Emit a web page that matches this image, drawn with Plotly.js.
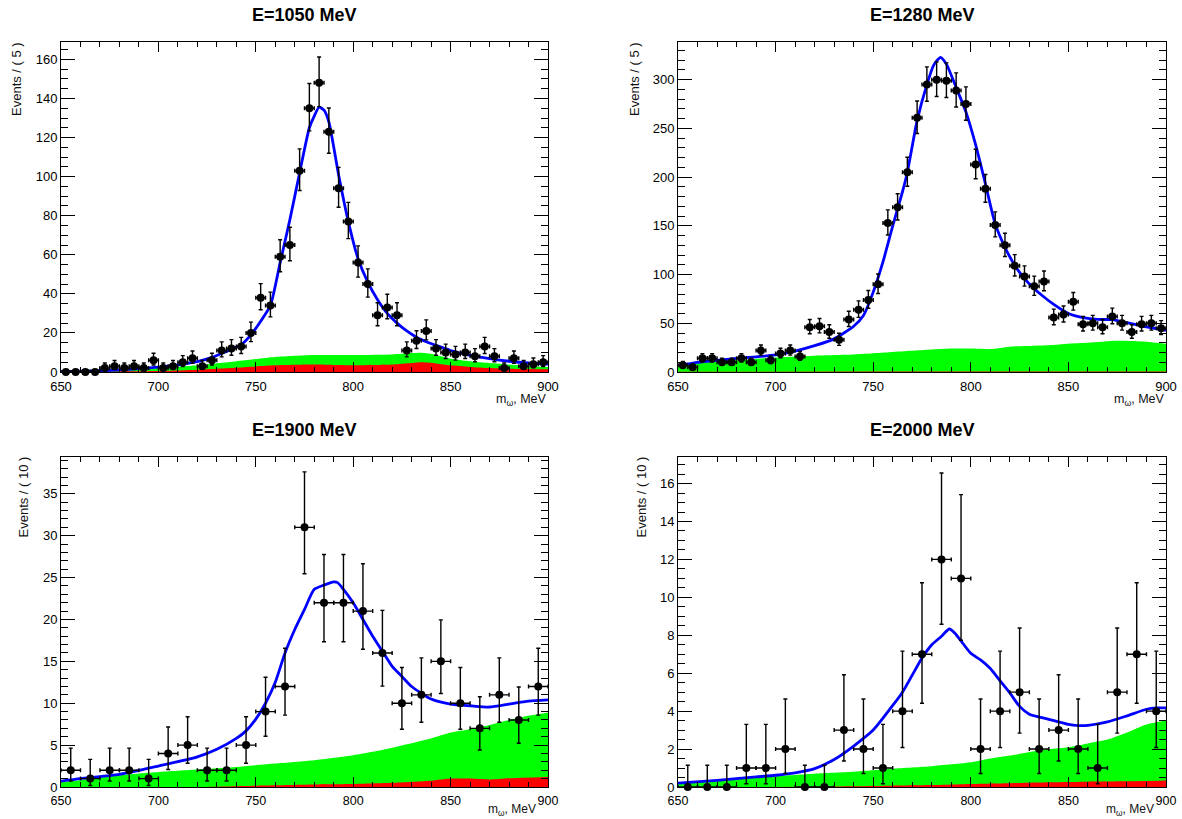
<!DOCTYPE html>
<html>
<head>
<meta charset="utf-8">
<script src="https://cdn.plot.ly/plotly-3.0.1.min.js"></script>
<style>html,body{margin:0;padding:0;background:#fff;}#chart{width:1182px;height:819px;}</style>
</head>
<body>
<div id="chart"></div>
<script>
// ---------- data ----------
const titles = ["E=1050 MeV", "E=1280 MeV", "E=1900 MeV", "E=2000 MeV"];
const yTitles = ["Events / ( 5 )", "Events / ( 5 )", "Events / ( 10 )", "Events / ( 10 )"];
const xTitle = "m<sub>ω</sub>, MeV";

// bin centres
const bins5 = [652.5,657.5,662.5,667.5,672.5,677.5,682.5,687.5,692.5,697.5,
               702.5,707.5,712.5,717.5,722.5,727.5,732.5,737.5,742.5,747.5,
               752.5,757.5,762.5,767.5,772.5,777.5,782.5,787.5,792.5,797.5,
               802.5,807.5,812.5,817.5,822.5,827.5,832.5,837.5,842.5,847.5,
               852.5,857.5,862.5,867.5,872.5,877.5,882.5,887.5,892.5,897.5];
const bins10 = [655,665,675,685,695,705,715,725,735,745,755,765,775,785,795,
                805,815,825,835,845,855,865,875,885,895];

// event counts
const counts1050 = [0,0,0,0,2,3,2,3,2,6,2,3,5,7,3,6,11,12,13,20,38,34,59,65,103,
                    135,148,123,94,77,56,45,29,33,29,11,16,21,12,10,9,10,8,13,8,2,7,3,4,5];
const counts1280 = [7,5,14,14,10,10,14,10,22,12,19,22,16,46,47,41,33,54,64,74,90,153,169,205,261,
                    295,300,299,289,275,213,188,151,130,109,98,88,93,56,59,72,49,50,46,57,50,41,49,50,45];
const counts1900 = [2,1,2,2,1,4,5,2,2,5,9,12,31,22,22,21,16,10,11,15,10,7,11,8,12];
const counts2000 = [0,0,0,1,1,2,0,0,3,2,1,4,7,12,11,2,4,5,2,3,2,1,5,7,4];

// total fit (blue)
const fitX1050 = [650,660,670,680,690,700,710,720,727.5,732.5,737.5,742.5,747.5,752.5,757.5,762.5,767.5,772.5,777.5,780,782.5,785,787.5,792.5,797.5,802.5,807.5,812.5,817.5,822.5,827.5,832.5,837.5,842.5,850,860,870,880,890,900];
const fitY1050 = [0.2,0.4,0.7,1.1,1.7,2.5,3.7,5.3,7.5,9.5,11.5,14,19,26,34,56,78,102,125,131,135.5,134,128,101,77,58,46,37,30,25,21,17.8,15.5,13.6,11,8.5,6.8,5.5,4.6,4];
const fitX1280 = [650,655,660,670,680,690,700,710,720,730,740,745,750,755,760,765,767.5,772.5,777.5,781,784.5,787.5,792.5,797.5,802.5,807.5,812.5,817.5,822.5,827.5,832.5,837.5,842.5,850,857.5,865,872.5,880,890,900];
const fitY1280 = [6.8,8.2,9.8,12,14,15.5,17.5,21.5,27,34,47,58,82,113,150,185,205,258,295,315,323,316,292,267,233,193,152,128,109.5,95.8,85.5,77,69.4,60,55.8,54,53.7,50.6,46.2,42.8];
const fitX1900 = [650,660,680,700,720,730,740,745,750,755,760,765,770,775,780,785,790,792,795,800,805,810,815,820,825,830,840,850,860,870,880,890,900];
const fitY1900 = [0.7,1.0,1.5,2.5,3.6,4.5,5.8,6.7,8.1,10,12.5,16,18.8,21.2,23.6,24.1,24.5,24.4,23.6,22,20,18,16.2,14.4,13.2,12,10.5,9.9,9.7,9.55,9.9,10.25,10.4];
const fitX2000 = [650,670,690,700,710,720,730,740,750,760,765,770,775,780,785,789,792,795,800,805,810,815,820,825,830,840,850,855,860,870,880,890,895,900];
const fitY2000 = [0.2,0.35,0.53,0.62,0.75,0.97,1.45,2.16,3.0,4.3,5.0,5.9,6.8,7.5,7.95,8.33,8.1,7.7,7.05,6.7,6.25,5.6,4.96,4.25,3.84,3.57,3.3,3.24,3.25,3.43,3.75,4.1,4.17,4.17];

// background components (green = total background, red = second component)
const grnX1050 = [650,660,680,700,720,740,760,780,800,820,830,835,840,845,850,860,870,880,890,900];
const grnY1050 = [0.8,1.0,1.5,2.0,3.4,5.5,7.7,8.7,8.7,9.0,9.7,9.9,9.3,8.0,6.8,5.5,4.6,3.8,3.1,2.6];
const redX1050 = grnX1050;
const redY1050 = [0,0.1,0.3,0.5,1.2,2.2,3.4,3.8,3.4,3.8,4.6,5.0,4.7,4.0,3.4,2.6,2.0,1.7,1.5,1.4];
const grnX1280 = [650,660,680,700,720,740,760,780,790,800,810,820,840,850,860,875,890,900];
const grnY1280 = [6.5,9,12,15,16.8,18,20.5,23,24,24,23.5,26,27.5,29,30,32,31,29];
const redX1280 = [650,750,800,900];
const redY1280 = [0.2,0.4,0.5,0.6];
const grnX1900 = [650,660,680,700,720,740,760,780,800,810,820,840,850,860,870,880,890,900];
const grnY1900 = [0.6,0.8,1.4,1.8,2.1,2.4,2.8,3.2,3.8,4.2,4.7,5.8,6.5,6.9,7.4,8,8.5,8.9];
const redX1900 = [650,720,740,760,780,800,820,840,850,860,870,880,900];
const redY1900 = [0,0,0.1,0.2,0.3,0.35,0.5,0.75,1.0,1.0,0.9,1.05,1.2];
const grnX2000 = [650,660,680,700,720,740,760,780,800,810,820,840,850,860,870,880,885,890,900];
const grnY2000 = [0.25,0.3,0.42,0.57,0.7,0.8,0.97,1.1,1.3,1.5,1.66,2.0,2.1,2.3,2.5,2.87,3.1,3.3,3.5];
const redX2000 = [650,720,740,760,780,800,820,840,860,880,900];
const redY2000 = [0,0.01,0.04,0.07,0.1,0.16,0.2,0.25,0.28,0.3,0.34];

// ---------- Poisson 68.27% intervals (how the error bars are defined) ----------
const ALPHA = 0.158655;
function poisCdf(n, mu) {
  let term = Math.exp(-mu), sum = term;
  for (let k = 1; k <= n; k++) { term *= mu / k; sum += term; }
  return sum;
}
function bisect(f, a, b) {
  for (let i = 0; i < 80; i++) { const m = 0.5 * (a + b); if (f(m) > 0) a = m; else b = m; }
  return 0.5 * (a + b);
}
function poisInterval(n) {
  if (n === 0) return [0, -Math.log(1 - 0.6827)];
  const hi = bisect(mu => poisCdf(n, mu) - ALPHA, n, n + 10 * Math.sqrt(n + 1) + 10);
  const lo = bisect(mu => poisCdf(n - 1, mu) - (1 - ALPHA), 0, n);
  return [lo, hi];
}

// ---------- build ----------
const panels = [
  {bins: bins5,  counts: counts1050, half: 2.5, fx: fitX1050, fy: fitY1050, gx: grnX1050, gy: grnY1050, rx: redX1050, ry: redY1050},
  {bins: bins5,  counts: counts1280, half: 2.5, fx: fitX1280, fy: fitY1280, gx: grnX1280, gy: grnY1280, rx: redX1280, ry: redY1280},
  {bins: bins10, counts: counts1900, half: 5,   fx: fitX1900, fy: fitY1900, gx: grnX1900, gy: grnY1900, rx: redX1900, ry: redY1900},
  {bins: bins10, counts: counts2000, half: 5,   fx: fitX2000, fy: fitY2000, gx: grnX2000, gy: grnY2000, rx: redX2000, ry: redY2000}
];

const W = 1182, H = 819;
const frames = [
  {l: 61, r: 548, t: 42, b: 372},
  {l: 678, r: 1166, t: 42, b: 372},
  {l: 61, r: 548, t: 457, b: 787},
  {l: 678, r: 1166, t: 457, b: 787}
];
const yRanges = [[0, 168.9], [0, 338.7], [0, 39.4], [0, 17.4]];
const yDticks = [20, 50, 5, 2];
const yMinor = [5, 10, 1, 0.5];
const yTitleX = [16, 634, 23, 641];

const FONT = "Liberation Sans, Arial, Helvetica, sans-serif";
const traces = [];
const layout = {
  width: W, height: H,
  margin: {l: 0, r: 0, t: 0, b: 0},
  paper_bgcolor: "#fff", plot_bgcolor: "#fff",
  showlegend: false,
  font: {family: FONT, color: "#000"},
  annotations: []
};

panels.forEach((p, i) => {
  const k = i + 1;
  const xa = "x" + (k === 1 ? "" : k), ya = "y" + (k === 1 ? "" : k);
  const fr = frames[i];
  const bottomRow = i >= 2;
  const up = [], dn = [];
  p.counts.forEach(n => { const [lo, hi] = poisInterval(n); up.push(hi - n); dn.push(n - lo); });

  traces.push({x: p.gx, y: p.gy, xaxis: xa, yaxis: ya, type: "scatter", mode: "lines",
    line: {color: "#00ff00", width: 0, shape: "spline", smoothing: 0.6}, fill: "tozeroy", fillcolor: "#00ff00", hoverinfo: "skip"});
  traces.push({x: p.rx, y: p.ry, xaxis: xa, yaxis: ya, type: "scatter", mode: "lines",
    line: {color: "#ff0000", width: 0, shape: "spline", smoothing: 0.6}, fill: "tozeroy", fillcolor: "#ff0000", hoverinfo: "skip"});
  traces.push({x: p.fx, y: p.fy, xaxis: xa, yaxis: ya, type: "scatter", mode: "lines",
    line: {color: "#0000ff", width: 2.8, shape: "spline", smoothing: 0.6}});
  traces.push({x: p.bins, y: p.counts, xaxis: xa, yaxis: ya, type: "scatter", mode: "markers",
    cliponaxis: false,
    marker: {color: "#000", size: 8, symbol: "circle"},
    error_y: {type: "data", symmetric: false, array: up, arrayminus: dn, color: "#000", thickness: 1.4, width: 2},
    error_x: {type: "constant", value: p.half, color: "#000", thickness: 1.4, width: 2}});

  const common = {showgrid: false, zeroline: false, showline: true, linecolor: "#000", linewidth: 1,
    mirror: "allticks", ticks: "inside", tickcolor: "#000", tickwidth: 1,
    tickfont: {family: FONT, size: 13, color: "#000"}};
  layout["xaxis" + (k === 1 ? "" : k)] = Object.assign({}, common, {
    domain: [fr.l / W, fr.r / W], anchor: ya, range: [650, 900],
    tick0: 650, dtick: 50, ticklen: 10, ticklabelstandoff: 2,
    tickfont: {family: FONT, size: bottomRow ? 12.5 : 13, color: "#000"},
    minor: {dtick: 10, tick0: 650, ticks: "inside", ticklen: 5, tickcolor: "#000", tickwidth: 1, showgrid: false}
  });
  layout["yaxis" + (k === 1 ? "" : k)] = Object.assign({}, common, {
    domain: [1 - fr.b / H, 1 - fr.t / H], anchor: xa, range: yRanges[i],
    tick0: 0, dtick: yDticks[i], ticklen: 14,
    minor: {dtick: yMinor[i], tick0: 0, ticks: "inside", ticklen: 7, tickcolor: "#000", tickwidth: 1, showgrid: false}
  });

  // panel title
  layout.annotations.push({text: "<b>" + titles[i] + "</b>", xref: "paper", yref: "paper",
    x: (fr.l + fr.r) / 2 / W, y: 1 - (fr.t - 27) / H, xanchor: "center", yanchor: "middle",
    showarrow: false, font: {family: FONT, size: 18, color: "#000"}});
  // y title
  layout.annotations.push({text: yTitles[i], xref: "paper", yref: "paper", textangle: -90,
    x: yTitleX[i] / W, y: 1 - (fr.t - 2) / H, xanchor: "center", yanchor: "top",
    showarrow: false, font: {family: FONT, size: 13, color: "#111"}});
  // x title (bottom-row titles sit at the page edge, nudged clear of the "900" label)
  layout.annotations.push({text: xTitle, xref: "paper", yref: "paper",
    x: (bottomRow ? fr.r - 11 : fr.r) / W,
    y: bottomRow ? 0 : 1 - (fr.b + 19) / H,
    xanchor: "right", yanchor: bottomRow ? "bottom" : "top",
    showarrow: false, borderpad: 0, font: {family: FONT, size: bottomRow ? 12 : 12.5, color: "#111"}});
});

Plotly.newPlot("chart", traces, layout, {staticPlot: true});
</script>
</body>
</html>
